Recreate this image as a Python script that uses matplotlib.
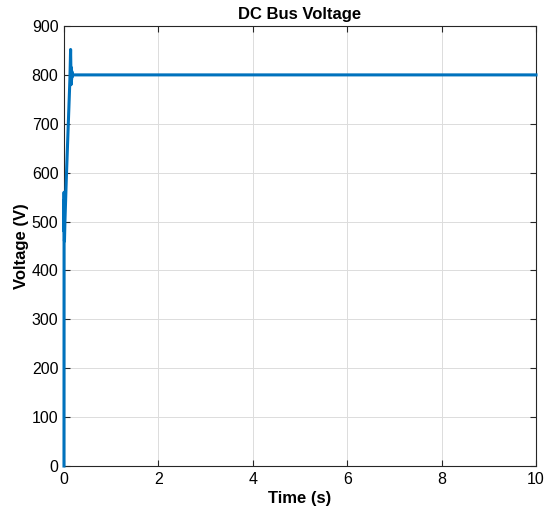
import matplotlib
matplotlib.use("Agg")
import matplotlib.pyplot as plt

time_s = [0.0, 0.002, 0.004, 0.006, 0.01, 0.02, 0.05, 0.08, 0.11, 0.125, 0.135, 0.14,
          0.145, 0.15, 0.155, 0.16, 0.165, 0.17, 0.175, 0.18, 0.2, 10.0]
voltage_v = [0, 560, 480, 545, 460, 500, 590, 670, 750, 790, 830, 852,
             820, 780, 815, 790, 808, 795, 803, 800, 800, 800]
x_ticks = [0, 2, 4, 6, 8, 10]
y_ticks = [0, 100, 200, 300, 400, 500, 600, 700, 800, 900]

plt.rcParams['font.family'] = ['Liberation Sans', 'DejaVu Sans']
fig = plt.figure(figsize=(5.54, 5.16), dpi=100)
ax = fig.add_axes([0.1155, 0.0969, 0.852, 0.8527])
ax.plot(time_s, voltage_v, color='#0072BD', linewidth=2.2, zorder=3, clip_on=False)
ax.set_xlim(0, 10)
ax.set_ylim(0, 900)
ax.set_xticks(x_ticks)
ax.set_yticks(y_ticks)
ax.tick_params(direction='in', top=True, right=True, labelsize=11.5, length=4, color='#262626', pad=4)
ax.grid(True, color='#dcdcdc', linewidth=0.7)
ax.set_axisbelow(True)
for s in ax.spines.values():
    s.set_color('#262626')
    s.set_linewidth(0.8)
ax.set_xlabel('Time (s)', fontsize=12, fontweight='bold', labelpad=3)
ax.set_ylabel('Voltage (V)', fontsize=12, fontweight='bold', labelpad=2)
ax.set_title('DC Bus Voltage', fontsize=12, fontweight='bold', pad=5)
fig.savefig('out.png', dpi=100)
